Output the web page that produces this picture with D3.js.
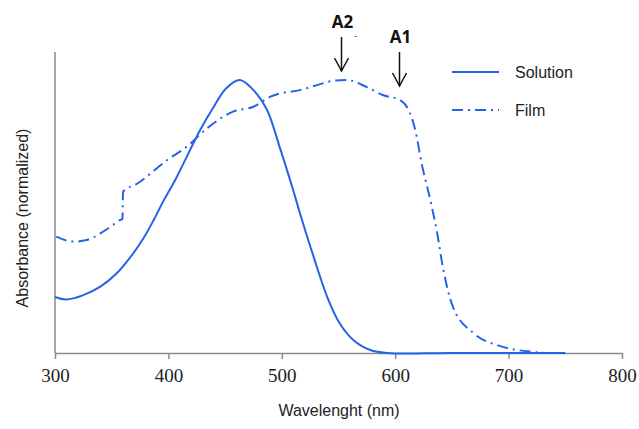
<!DOCTYPE html>
<html lang="en">
<head>
    <meta charset="UTF-8">
    <title>Absorbance spectra</title>
    <script src="https://d3js.org/d3.v7.min.js"></script>
    <style>
        body { margin: 0; background: white; }
    </style>
</head>
<body>
<svg id="chart" width="639" height="429"></svg>

<script>
    // Wavelength (nm) and normalized absorbance.
    const solutionWl  = [300, 310, 325, 340, 354, 369, 378, 387, 396, 406, 428, 440, 451, 463, 475, 487, 498, 510, 516, 528, 540, 551, 563, 578, 593, 650, 750];
    const solutionAbs = [0.205, 0.196, 0.212, 0.243, 0.29, 0.365, 0.42, 0.487, 0.560, 0.634, 0.817, 0.902, 0.970, 1.0, 0.963, 0.890, 0.756, 0.597, 0.512, 0.353, 0.206, 0.109, 0.048, 0.011, 0.0, 0.0, 0.0];

    const filmWl  = [301, 316, 328, 340, 351, 357, 359.5, 360, 372, 399, 416, 434, 457, 475, 490, 496, 516, 534, 545, 557, 575, 589, 604, 613, 617, 624, 631, 637, 642, 651, 669, 692, 722, 734, 750];
    const filmAbs = [0.426, 0.408, 0.414, 0.438, 0.469, 0.487, 0.49, 0.591, 0.619, 0.707, 0.755, 0.823, 0.884, 0.902, 0.939, 0.948, 0.963, 0.985, 0.997, 1.0, 0.974, 0.945, 0.927, 0.879, 0.828, 0.681, 0.56, 0.44, 0.315, 0.168, 0.073, 0.026, 0.004, 0.0, 0.0];

    const xTicks = [300, 400, 500, 600, 700, 800];
    const seriesNames = ["Solution", "Film"];
    const peakLabels = [{name: "A2", wl: 557}, {name: "A1", wl: 608}];

    const blue = "#2563e6";
    const dashDot = "11,5,2,5";
    const svg = d3.select("#chart");

    const x = d3.scaleLinear().domain([300, 800]).range([55, 622]);
    const y = d3.scaleLinear().domain([0, 1]).range([353, 80]);

    // axes
    svg.append("line")
        .attr("x1", 55).attr("x2", 55).attr("y1", 52).attr("y2", 353)
        .attr("stroke", "#8a8a8a").attr("stroke-width", 1.5);

    const xAxis = svg.append("g")
        .attr("transform", "translate(0,353)")
        .call(d3.axisBottom(x).tickValues(xTicks).tickSize(6).tickPadding(10).tickSizeOuter(0));
    xAxis.select(".domain").attr("stroke", "#8a8a8a").attr("stroke-width", 1.5);
    xAxis.selectAll(".tick line").attr("stroke", "#8a8a8a").attr("stroke-width", 1.5);
    xAxis.selectAll(".tick text")
        .attr("font-family", "'Liberation Serif', serif")
        .attr("font-size", 19)
        .attr("fill", "#222");

    svg.append("text")
        .attr("x", 339).attr("y", 416)
        .attr("text-anchor", "middle")
        .attr("font-family", "'Liberation Sans', Arial, sans-serif")
        .attr("font-size", 16).attr("fill", "#222")
        .text("Wavelenght (nm)");

    svg.append("text")
        .attr("transform", "translate(28,218) rotate(-90)")
        .attr("text-anchor", "middle")
        .attr("font-family", "'Liberation Sans', Arial, sans-serif")
        .attr("font-size", 16).attr("fill", "#222")
        .text("Absorbance (normalized)");

    // curves
    const smooth = d3.line()
        .x(d => x(d[0]))
        .y(d => y(d[1]))
        .curve(d3.curveCatmullRom.alpha(0.5));

    const mono = d3.line()
        .x(d => x(d[0]))
        .y(d => y(d[1]))
        .curve(d3.curveMonotoneX);

    svg.append("path")
        .datum(d3.zip(solutionWl, solutionAbs))
        .attr("fill", "none")
        .attr("stroke", blue)
        .attr("stroke-width", 2)
        .attr("d", smooth);

    svg.append("path")
        .datum(d3.zip(filmWl, filmAbs))
        .attr("fill", "none")
        .attr("stroke", blue)
        .attr("stroke-width", 2)
        .attr("stroke-dasharray", dashDot)
        .attr("d", mono);

    // peak markers
    peakLabels.forEach((p, i) => {
        const px = Math.round(x(p.wl)) - 4.5;
        const top = i === 0 ? 37 : 52;
        svg.append("text")
            .attr("x", px + 1).attr("y", top - 9)
            .attr("text-anchor", "middle")
            .attr("font-family", "'Open Sans', sans-serif")
            .attr("font-weight", "bold")
            .attr("font-size", 17).attr("fill", "#111")
            .text(p.name);
        svg.append("line")
            .attr("x1", px).attr("x2", px).attr("y1", top).attr("y2", top + 34)
            .attr("stroke", "#111").attr("stroke-width", 1.5);
        svg.append("path")
            .attr("d", `M${px - 7},${top + 21} L${px},${top + 34} L${px + 7},${top + 21}`)
            .attr("fill", "none").attr("stroke", "#111").attr("stroke-width", 1.5);
    });
    svg.append("text")
        .attr("x", 354).attr("y", 39)
        .attr("font-family", "'Open Sans', sans-serif")
        .attr("font-size", 9).attr("fill", "#111")
        .text("-");

    // legend
    const legend = svg.append("g");
    seriesNames.forEach((name, i) => {
        const ly = 72 + i * 38;
        legend.append("line")
            .attr("x1", 452).attr("x2", 499).attr("y1", ly).attr("y2", ly)
            .attr("stroke", blue).attr("stroke-width", 2)
            .attr("stroke-dasharray", i === 1 ? dashDot : null);
        legend.append("text")
            .attr("x", 515).attr("y", ly + 6)
            .attr("font-family", "'Liberation Sans', Arial, sans-serif")
            .attr("font-size", 16).attr("fill", "#222")
            .text(name);
    });
</script>
</body>
</html>
